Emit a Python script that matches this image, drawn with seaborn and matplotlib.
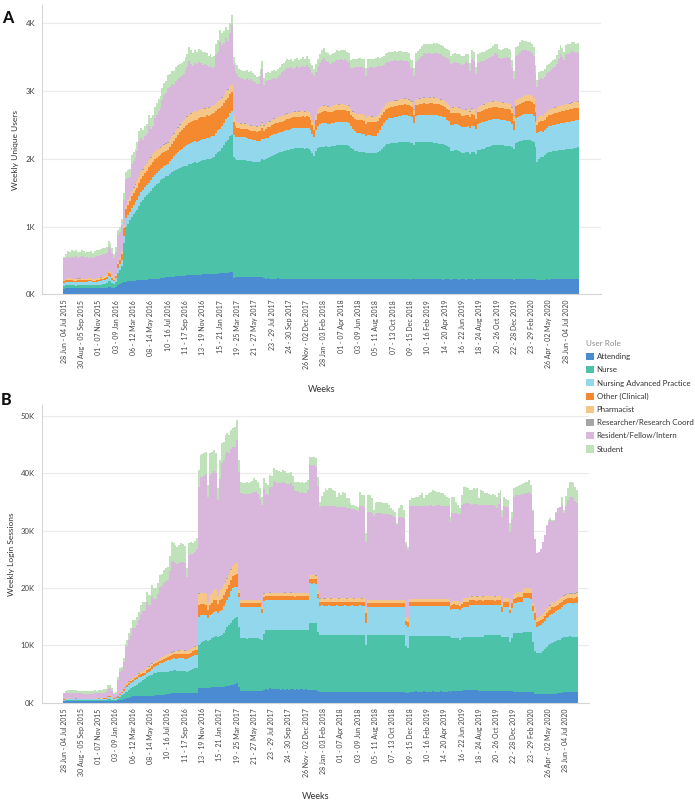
import numpy as np
import pandas as pd
import matplotlib
matplotlib.use('Agg')
import matplotlib.pyplot as plt
import seaborn as sns
from matplotlib.patches import Patch

N_WEEKS = 268
WEEK_IDX = np.arange(N_WEEKS)

ROLES = ['Attending', 'Nurse', 'Nursing Advanced Practice', 'Other (Clinical)', 'Pharmacist',
         'Researcher/Research Coord', 'Resident/Fellow/Intern', 'Student']
COLORS = ['#4a8bd1', '#4cc2a8', '#93d7ec', '#f5892f', '#f6c687', '#a6a6a6', '#d9b6db', '#bfe2bb']

WEEK_LABELS = ['28 Jun - 04 Jul 2015', '30 Aug - 05 Sep 2015', '01 - 07 Nov 2015', '03 - 09 Jan 2016',
               '06 - 12 Mar 2016', '08 - 14 May 2016', '10 - 16 Jul 2016', '11 - 17 Sep 2016',
               '13 - 19 Nov 2016', '15 - 21 Jan 2017', '19 - 25 Mar 2017', '21 - 27 May 2017',
               '23 - 29 Jul 2017', '24 - 30 Sep 2017', '26 Nov - 02 Dec 2017', '28 Jan - 03 Feb 2018',
               '01 - 07 Apr 2018', '03 - 09 Jun 2018', '05 - 11 Aug 2018', '07 - 13 Oct 2018',
               '09 - 15 Dec 2018', '10 - 16 Feb 2019', '14 - 20 Apr 2019', '16 - 22 Jun 2019',
               '18 - 24 Aug 2019', '20 - 26 Oct 2019', '22 - 28 Dec 2019', '23 - 29 Feb 2020',
               '26 Apr - 02 May 2020', '28 Jun - 04 Jul 2020']

# ---------------- panel A: weekly unique users ----------------
A_ATTENDING = [
    85, 88, 90, 92, 90, 88, 86, 90, 92, 90, 88, 90, 92, 94, 90, 88, 86, 90, 92, 90, 94, 96, 100, 108, 112, 100, 95, 105,
    130, 150, 170, 180, 185, 190, 190, 195, 200, 200, 205, 205, 210, 210, 215, 215, 220, 220, 225, 225,
    230, 230, 235, 240, 245, 250, 255, 255, 260, 260, 265, 265, 270, 270, 275, 275, 280, 280, 285, 285,
    285, 290, 290, 290, 295, 295, 295, 300, 300, 300, 300, 305, 305, 310, 310, 315, 315, 320, 325, 330, 240,
    262, 258, 255, 257, 254, 256, 253, 255, 252, 254,
    252, 250, 253, 251, 249, 236, 232, 235, 230, 233,
    232, 230, 234, 231, 229, 232, 230, 228, 231, 229,
    228, 230, 226, 229, 227, 230, 228, 226, 229, 227,
    226, 222, 228, 230, 229, 231, 228, 230, 229, 231,
    230, 232, 229, 231, 230, 228, 231, 229, 230, 228,
    226, 224, 227, 225, 222, 224, 226, 223, 221, 224,
    222, 224, 221, 223, 220, 222, 224, 221, 223, 222,
    221, 223, 220, 222, 221, 219, 222, 220, 221, 219,
    220, 218, 221, 219, 220, 222, 219, 221, 220, 222,
    220, 221, 219, 222, 220, 221, 219, 220, 218, 221,
    219, 220, 218, 221, 219, 220, 218, 221, 219, 220,
    218, 221, 219, 220, 218, 221, 219, 220, 222, 219,
    221, 220, 222, 219, 221, 220, 222, 219, 221, 220,
    219, 221, 220, 222, 220, 218, 224, 226, 225, 227,
    227, 225, 226, 224, 225, 222, 220, 215, 218, 216,
    218, 217, 219, 218, 220, 219, 221, 220, 222, 221,
    222, 220, 223, 221, 224, 222, 225, 223, 226]
A_NURSE = [
    40, 45, 48, 50, 45, 42, 40, 45, 48, 50, 46, 44, 45, 48, 50, 46, 44, 48, 50, 52, 55, 60, 65, 85, 80, 60, 50, 70,
    183, 210, 250, 575, 815, 850, 900, 945, 980, 1015, 1040, 1095, 1150, 1185, 1215, 1245, 1280, 1310, 1345, 1375,
    1400, 1420, 1445, 1460, 1475, 1490, 1495, 1525, 1540, 1560, 1575, 1585, 1600, 1610, 1615, 1625, 1620, 1640,
    1645, 1655, 1670, 1650, 1670, 1680, 1680, 1685, 1695, 1690, 1700, 1710, 1720, 1760, 1795, 1810, 1850, 1885,
    1935, 1960, 2005, 2020, 1790,
    1728, 1727, 1725, 1718, 1726, 1722, 1717, 1713, 1713, 1706,
    1706, 1705, 1707, 1719, 1741, 1749, 1768, 1775, 1800, 1807,
    1828, 1840, 1851, 1864, 1875, 1878, 1890, 1902, 1904, 1911,
    1922, 1925, 1928, 1929, 1933, 1925, 1922, 1934, 1921, 1893,
    1854, 1818, 1882, 1930, 1941, 1947, 1952, 1955, 1951, 1947,
    1955, 1958, 1966, 1969, 1968, 1977, 1972, 1971, 1968, 1967,
    1934, 1916, 1893, 1885, 1883, 1880, 1874, 1872, 1859, 1866,
    1863, 1858, 1859, 1862, 1880, 1898, 1926, 1959, 1977, 1993,
    2004, 2005, 2010, 2013, 2019, 2026, 2026, 2030, 2031, 2031,
    2028, 2022, 2014, 1981, 2025, 2028, 2033, 2033, 2035, 2030,
    2030, 2027, 2026, 2018, 2015, 2009, 2006, 2000, 1997, 1989,
    1971, 1950, 1892, 1894, 1906, 1910, 1902, 1879, 1866, 1870,
    1877, 1881, 1859, 1885, 1880, 1852, 1906, 1915, 1923, 1931,
    1939, 1950, 1958, 1971, 1977, 1983, 1983, 1984, 1979, 1978,
    1976, 1969, 1966, 1962, 1956, 1932, 2016, 2026, 2035, 2041,
    2048, 2052, 2052, 2052, 2045, 2028, 1960, 1745, 1782, 1814,
    1813, 1833, 1861, 1882, 1884, 1891, 1894, 1900, 1903, 1907,
    1908, 1915, 1917, 1921, 1921, 1928, 1930, 1937, 1944]
A_NAP = [
    45, 48, 50, 46, 44, 48, 50, 47, 45, 48, 50, 46, 44, 48, 50, 46, 45, 48, 50, 52, 55, 58, 60, 75, 70, 55, 45, 60,
    70, 80, 90, 110, 120, 125, 130, 135, 135, 140, 140, 145, 145, 145, 150, 150, 150, 150, 155, 160,
    160, 165, 165, 170, 170, 175, 180, 190, 200, 215, 230, 245, 260, 270, 280, 290, 300, 300, 300, 305,
    305, 305, 310, 310, 310, 310, 315, 315, 315, 320, 320, 320, 325, 325, 330, 330, 335, 340, 345, 350, 320,
    330, 335, 340, 340, 342, 338, 335, 330, 325, 320,
    315, 310, 305, 300, 305, 300, 300, 302, 300, 305,
    305, 300, 298, 300, 295, 300, 298, 300, 296, 300,
    300, 298, 295, 300, 298, 302, 300, 298, 300, 300,
    290, 280, 310, 330, 340, 344, 345, 342, 340, 340,
    342, 344, 345, 344, 346, 345, 344, 343, 342, 340,
    320, 300, 285, 275, 272, 270, 270, 268, 255, 262,
    260, 255, 250, 258, 275, 300, 330, 350, 360, 365,
    370, 372, 375, 378, 380, 385, 388, 390, 392, 390,
    388, 385, 380, 330, 385, 390, 392, 395, 398, 396,
    400, 405, 408, 410, 412, 415, 412, 410, 405, 400,
    390, 385, 390, 388, 385, 384, 383, 385, 380, 378,
    380, 378, 375, 382, 380, 370, 388, 390, 392, 393,
    393, 392, 390, 388, 385, 383, 380, 378, 375, 373,
    372, 370, 368, 365, 340, 275, 365, 370, 375, 380,
    385, 388, 390, 392, 390, 385, 360, 420, 400, 385,
    370, 372, 375, 380, 382, 385, 388, 390, 392, 395,
    398, 400, 402, 405, 405, 408, 410, 408, 405]
A_OTHER = [
    22, 25, 24, 26, 25, 23, 24, 26, 25, 24, 23, 25, 26, 24, 25, 23, 24, 26, 25, 27, 28, 30, 32, 45, 40, 30, 25, 35,
    60, 70, 90, 110, 140, 150, 160, 170, 175, 180, 190, 195, 200, 205, 210, 215, 225, 230, 235, 230,
    225, 220, 215, 210, 205, 200, 200, 210, 220, 230, 240, 250, 260, 270, 280, 290, 300, 310, 315, 320,
    320, 325, 325, 330, 330, 330, 335, 330, 330, 330, 330, 320, 310, 300, 290, 290, 290, 280, 280, 280, 190,
    170, 140, 130, 128, 125, 126, 130, 128, 126, 125,
    130, 135, 140, 145, 160, 130, 140, 150, 145, 148,
    150, 152, 150, 155, 150, 152, 155, 158, 150, 155,
    160, 162, 165, 160, 165, 168, 165, 170, 160, 150,
    130, 110, 150, 165, 170, 172, 175, 172, 170, 168,
    170, 172, 174, 175, 172, 175, 173, 172, 170, 168,
    170, 175, 185, 195, 198, 200, 205, 200, 185, 198,
    200, 205, 210, 195, 185, 175, 168, 165, 162, 160,
    160, 158, 160, 162, 158, 160, 162, 158, 160, 158,
    158, 155, 150, 120, 158, 160, 162, 165, 166, 165,
    165, 166, 168, 166, 165, 167, 165, 163, 160, 158,
    158, 160, 170, 172, 170, 168, 170, 172, 170, 168,
    170, 172, 165, 172, 170, 150, 172, 170, 172, 174,
    175, 176, 178, 176, 178, 180, 178, 176, 175, 174,
    175, 176, 174, 172, 160, 140, 175, 178, 180, 182,
    184, 185, 184, 183, 180, 175, 150, 120, 140, 150,
    155, 158, 160, 162, 165, 168, 170, 172, 174, 175,
    176, 175, 178, 180, 180, 182, 184, 182, 180]
A_PHARMACIST = [
    20, 22, 24, 22, 21, 23, 22, 24, 23, 22, 21, 23, 24, 22, 23, 21, 22, 24, 23, 25, 26, 27, 28, 32, 30, 26, 22, 28,
    30, 35, 40, 50, 60, 70, 75, 80, 85, 85, 90, 90, 95, 95, 100, 100, 105, 105, 110, 108,
    112, 110, 106, 110, 112, 108, 110, 112, 110, 108, 115, 113, 116, 120, 118, 122, 120, 118, 121, 120,
    119, 122, 120, 118, 121, 120, 118, 122, 120, 119, 121, 120, 118, 122, 120, 121, 119, 122, 120, 121, 90,
    80, 78, 76, 75, 74, 76, 75, 74, 75, 74,
    75, 74, 76, 75, 78, 74, 75, 76, 75, 76,
    78, 76, 78, 77, 76, 78, 77, 78, 76, 78,
    78, 80, 78, 79, 80, 78, 80, 79, 78, 76,
    74, 70, 78, 80, 82, 82, 83, 82, 81, 80,
    82, 83, 82, 84, 83, 84, 83, 82, 82, 81,
    80, 81, 82, 82, 81, 82, 82, 81, 78, 80,
    80, 81, 80, 81, 82, 82, 83, 82, 83, 82,
    82, 81, 82, 83, 82, 81, 82, 83, 82, 81,
    81, 80, 79, 75, 81, 82, 83, 84, 84, 83,
    84, 83, 84, 85, 84, 84, 83, 82, 82, 81,
    80, 81, 80, 81, 80, 81, 80, 79, 80, 79,
    80, 81, 78, 81, 80, 76, 81, 82, 82, 83,
    83, 84, 84, 83, 84, 85, 84, 83, 83, 82,
    82, 83, 82, 82, 80, 74, 82, 83, 84, 85,
    86, 85, 86, 85, 84, 83, 78, 72, 75, 76,
    77, 78, 79, 80, 80, 81, 82, 82, 83, 84,
    84, 83, 85, 85, 86, 86, 87, 86, 86]
A_RESEARCH = [
    1, 2, 2, 1, 2, 2, 1, 2, 2, 1, 2, 2, 1, 2, 2, 1, 2, 2, 1, 2, 2, 1, 2, 3, 3, 2, 2, 2,
    3, 3, 4, 3, 4, 4, 3, 4, 4, 3, 4, 5, 4, 4, 3, 4, 4, 5, 4, 4,
    4, 5, 4, 4, 5, 4, 4, 5, 5, 4, 4, 5, 4, 5, 5, 4, 5, 5, 4, 5,
    5, 4, 5, 5, 4, 5, 5, 4, 5, 4, 4, 5, 4, 4, 5, 4, 4, 5, 4, 4,
    4, 5, 4, 4, 4, 5, 4, 4, 5, 4, 4, 4, 5, 4, 4, 5, 4, 4, 4, 5,
    4, 4, 5, 4, 4, 4, 5, 4, 4, 5, 4, 4, 4, 5, 4, 4, 5, 4, 4, 4,
    5, 4, 4, 5, 4, 4, 4, 5, 4, 4, 5, 4, 4, 4, 5, 4, 4, 5, 4, 4,
    4, 5, 4, 4, 5, 4, 4, 4, 5, 4, 4, 5, 4, 4, 4, 5, 4, 4, 5, 4,
    4, 4, 5, 4, 4, 5, 4, 4, 4, 5, 4, 4, 5, 4, 4, 4, 5, 4, 4, 5,
    4, 4, 4, 5, 4, 4, 5, 4, 4, 4, 5, 4, 4, 5, 4, 4, 4, 5, 4, 4,
    5, 4, 4, 4, 5, 4, 4, 5, 4, 4, 4, 5, 4, 4, 5, 4, 4, 4, 5, 4,
    4, 5, 4, 4, 4, 5, 4, 4, 5, 4, 4, 4, 5, 4, 4, 5, 4, 4, 4, 5,
    4, 4, 5, 4, 4, 5, 4, 4, 4, 5, 4, 4, 5, 4, 4, 4, 5, 4, 4, 5]
A_STUDENT = [
    5, 70, 85, 80, 95, 90, 95, 85, 85, 90, 85, 80, 85, 80, 85, 80, 85, 90, 85, 90, 90, 95, 90, 95, 90, 80, 60, 70,
    80, 85, 90, 100, 110, 110, 120, 130, 130, 135, 140, 150, 150, 145, 150, 150, 160, 155, 160, 165,
    170, 170, 175, 180, 185, 185, 190, 190, 195, 195, 200, 200, 200, 200, 195, 195, 190, 200, 195, 190,
    190, 185, 185, 180, 180, 175, 170, 165, 160, 160, 160, 165, 170, 175, 170, 170, 165, 160, 150, 150, 120,
    130, 125, 120, 118, 120, 122, 118, 120, 118, 115,
    110, 105, 110, 115, 120, 105, 110, 110, 112, 115,
    115, 118, 120, 122, 120, 125, 122, 125, 122, 125,
    120, 125, 122, 120, 124, 126, 122, 125, 120, 115,
    118, 115, 120, 125, 130, 135, 138, 135, 132, 130,
    132, 135, 134, 136, 135, 138, 136, 135, 134, 132,
    125, 126, 128, 127, 128, 126, 128, 125, 115, 125,
    125, 126, 124, 128, 128, 126, 128, 130, 132, 134,
    135, 136, 134, 137, 135, 136, 135, 134, 133, 134,
    133, 128, 125, 115, 132, 135, 138, 140, 142, 140,
    140, 142, 140, 143, 142, 144, 140, 138, 136, 134,
    132, 130, 125, 128, 130, 129, 130, 128, 126, 127,
    128, 130, 120, 132, 130, 115, 130, 131, 132, 133,
    134, 135, 136, 138, 140, 142, 140, 136, 135, 136,
    137, 138, 136, 135, 125, 110, 135, 138, 140, 142,
    142, 140, 138, 136, 134, 130, 115, 105, 110, 112,
    112, 115, 118, 120, 122, 124, 126, 128, 130, 134,
    132, 128, 136, 138, 140, 142, 142, 140, 140]
# top of each weekly stack; residents fill the gap below the students
A_TOTAL = [
    545, 600, 640, 620, 650, 640, 655, 620, 630, 650, 635, 615, 630, 620, 640, 610, 640, 660, 650, 670,
    680, 690, 700, 790, 760, 690, 590, 700,
    950, 1000, 1110, 1490, 1810, 1830, 1850, 2050, 2100, 2140, 2250, 2410, 2460, 2420, 2480, 2520, 2640, 2600,
    2650, 2760, 2820, 2880, 2920, 3050, 3120, 3150, 3230, 3250, 3300, 3290, 3350, 3380, 3400, 3420, 3440, 3500,
    3540, 3650, 3600, 3560, 3600, 3580, 3620, 3600, 3570, 3580, 3560, 3520, 3540, 3500, 3520, 3700, 3750, 3900,
    3850, 3880, 3950, 3900, 4000, 4120, 3500,
    3420, 3380, 3330, 3310, 3300, 3290, 3310, 3280, 3290, 3260,
    3240, 3210, 3220, 3330, 3450, 3190, 3260, 3280, 3270, 3300,
    3310, 3300, 3330, 3360, 3400, 3420, 3440, 3470, 3460, 3480,
    3450, 3470, 3490, 3460, 3480, 3500, 3470, 3510, 3480, 3420,
    3380, 3330, 3400, 3480, 3540, 3600, 3630, 3580, 3560, 3530,
    3540, 3560, 3580, 3600, 3590, 3610, 3600, 3605, 3580, 3560,
    3460, 3470, 3480, 3475, 3490, 3485, 3480, 3470, 3340, 3470,
    3475, 3480, 3470, 3490, 3500, 3495, 3505, 3510, 3540, 3560,
    3570, 3580, 3575, 3590, 3580, 3585, 3590, 3580, 3570, 3575,
    3560, 3470, 3460, 3340, 3560, 3590, 3620, 3660, 3700, 3690,
    3695, 3700, 3690, 3705, 3700, 3702, 3690, 3680, 3660, 3640,
    3620, 3600, 3520, 3540, 3560, 3545, 3550, 3530, 3510, 3520,
    3550, 3540, 3410, 3600, 3580, 3360, 3540, 3560, 3570, 3580,
    3590, 3610, 3625, 3640, 3660, 3700, 3690, 3620, 3610, 3620,
    3630, 3635, 3620, 3600, 3460, 3290, 3650, 3670, 3720, 3750,
    3745, 3740, 3730, 3720, 3700, 3650, 3380, 3160, 3280, 3300,
    3290, 3320, 3380, 3400, 3430, 3460, 3480, 3530, 3600, 3680,
    3640, 3580, 3680, 3690, 3700, 3730, 3720, 3700, 3710]

# ---------------- panel B: weekly login sessions ----------------
B_ATTENDING = [
    230, 250, 260, 255, 250, 245, 255, 250, 245, 240, 245, 250, 255, 250, 245, 250, 255, 260, 255, 260,
    265, 270, 280, 320, 330, 290, 260, 270,
    400, 440, 465, 600, 700, 755, 900, 1050, 1160, 1150, 1160, 1170, 1160, 1150, 1160, 1160, 1170, 1200, 1230, 1250,
    1280, 1300, 1335, 1380, 1420, 1470, 1510, 1600, 1700, 1740, 1740, 1740, 1745, 1740, 1735, 1740, 1700, 1720,
    1700, 1680, 1650, 1626, 2500, 2500, 2550, 2600, 2620, 2600, 2640, 2650, 2670, 2680, 2670, 2700, 2750, 2800,
    2850, 2900, 2950, 3000, 3080, 3200, 3370,
    2800, 2090, 2100, 2080, 2090, 2070, 2100, 2090, 2080, 2090,
    2080, 2100, 2050, 2200, 2300, 2290, 2500, 2350, 2320, 2300,
    2300, 2310, 2290, 2300, 2280, 2300, 2290, 2310, 2300, 2280,
    2300, 2290, 2310, 2300, 2280, 2300, 2290, 2210, 2210, 2230,
    2220, 2000, 1916, 1920, 1910, 1916, 1920, 1916, 1910, 1916,
    1920, 1916, 1910, 1916, 1920, 1916, 1910, 1916, 1920, 1916,
    1910, 1916, 1920, 1916, 1910, 1916, 1800, 1800, 1810, 1800,
    1800, 1810, 1800, 1790, 1800, 1810, 1800, 1790, 1800, 1810,
    1800, 1790, 1800, 1810, 1800, 1790, 1800, 1650, 1626, 1950,
    1950, 1940, 1960, 1950, 1940, 1950, 1960, 1950, 1940, 1950,
    1940, 1960, 1950, 1940, 1950, 1960, 1950, 1940, 1950, 1960,
    1950, 2000, 2010, 2000, 1990, 2000, 2010, 2210, 2210, 2200,
    2210, 2200, 2210, 2200, 2210, 2000, 1990, 2000, 2010, 2000,
    2000, 2010, 2000, 1990, 2000, 2010, 2000, 1990, 2000, 2010,
    2000, 1990, 2000, 1916, 1920, 1916, 1910, 1916, 1920, 1916,
    1920, 1916, 1900, 1800, 1600, 1510, 1510, 1520, 1520, 1530,
    1540, 1550, 1560, 1560, 1570, 1600, 1650, 1700, 1750, 1800,
    1850, 1916, 1916, 1920, 1916, 1920, 1916]
B_NURSE = [
    120, 150, 160, 150, 155, 150, 160, 150, 145, 150, 150, 145, 150, 155, 150, 150, 155, 160, 165, 170,
    180, 190, 200, 300, 320, 230, 200, 220,
    300, 605, 835, 1000, 1100, 1161, 1300, 1450, 1630, 1800, 1990, 2180, 2500, 2750, 2940, 3370, 3430, 3550, 3670, 3860,
    3920, 4000, 4065, 4020, 3980, 3930, 3890, 3900, 3900, 3950, 3910, 3860, 3835, 3810, 3765, 3710, 3700, 3780,
    4000, 4170, 4330, 4374, 7550, 7800, 7950, 8100, 8300, 8200, 8360, 8550, 8830, 8920, 8830, 9000, 9040, 9400,
    9850, 10340, 10550, 10800, 11320, 11500, 11610,
    10440, 9120, 9150, 9120, 9090, 9140, 9150, 9130, 9120, 9120,
    9120, 9080, 8850, 9800, 10360, 10310, 10200, 10300, 10340, 10380,
    10360, 10340, 10410, 10360, 10360, 10360, 10390, 10340, 10360, 10320,
    10360, 10390, 10340, 10360, 10360, 10360, 10390, 11610, 11590, 11590,
    11580, 10400, 9874, 9880, 9870, 9874, 9880, 9874, 9870, 9874,
    9880, 9874, 9870, 9874, 9880, 9874, 9870, 9874, 9880, 9874,
    9870, 9874, 9880, 9874, 9870, 9874, 8250, 9990, 9990, 9990,
    9990, 9960, 10010, 9980, 9950, 10000, 9970, 9990, 9960, 10010,
    9970, 9990, 9960, 10000, 9980, 9990, 9970, 8150, 7844, 9700,
    9700, 9720, 9690, 9700, 9710, 9700, 9690, 9720, 9700, 9710,
    9720, 9690, 9700, 9710, 9700, 9690, 9720, 9700, 9710, 9700,
    9550, 9200, 9190, 9200, 9210, 8920, 9190, 9290, 9290, 9300,
    9290, 9300, 9290, 9300, 9290, 9500, 9510, 9500, 9780, 9790,
    9790, 9780, 9790, 9800, 9790, 9780, 9790, 9510, 9500, 9490,
    9500, 8640, 9200, 10164, 10160, 10164, 10190, 10164, 10450, 10454,
    10450, 10454, 10400, 8700, 7400, 7080, 7080, 7180, 7480, 7870,
    8220, 8450, 8640, 8780, 8930, 9100, 9270, 9220, 9450, 9700,
    9650, 9584, 9634, 9580, 9584, 9530, 9584]
B_NAP = [
    180, 210, 220, 215, 210, 205, 220, 210, 200, 205, 200, 195, 205, 210, 200, 205, 210, 220, 215, 225,
    230, 240, 250, 380, 400, 300, 240, 250,
    200, 305, 400, 500, 700, 874, 900, 900, 870, 950, 1000, 1050, 900, 800, 700, 650, 700, 850, 1000, 1100,
    1200, 1300, 1450, 1600, 1750, 1900, 2000, 2000, 2000, 2030, 2050, 2100, 2140, 2170, 2220, 2250, 2250, 2220,
    2200, 2250, 2320, 2350, 4950, 4900, 4800, 4600, 4280, 4000, 4300, 4300, 4350, 4350, 4200, 4300, 4350, 4600,
    4600, 4650, 5000, 5600, 5500, 5500, 5230,
    5230, 5510, 5450, 5450, 5540, 5540, 5450, 5500, 5450, 5490,
    5500, 5470, 4660, 5800, 5230, 5300, 5250, 5250, 5230, 5270,
    5240, 5300, 5200, 5230, 5310, 5240, 5210, 5300, 5240, 5250,
    5230, 5270, 5250, 5240, 5250, 5290, 5220, 6970, 6950, 6970,
    6900, 5800, 5110, 5150, 5120, 5130, 5100, 5160, 5120, 5130,
    5100, 5160, 5120, 5130, 5100, 5160, 5120, 5130, 5100, 5160,
    5120, 5130, 5100, 5160, 5120, 5130, 3770, 4930, 4950, 4930,
    4930, 4950, 4920, 4960, 4940, 4930, 4950, 4920, 4960, 4940,
    4950, 4930, 4960, 4940, 4930, 4950, 4920, 3700, 3770, 5250,
    5250, 5230, 5260, 5240, 5250, 5230, 5260, 5240, 5250, 5230,
    5260, 5240, 5250, 5230, 5260, 5240, 5250, 5230, 5260, 5240,
    4640, 5200, 5200, 5200, 5200, 5220, 5300, 5220, 5220, 5220,
    5510, 5500, 5520, 5510, 5500, 5510, 5520, 5500, 5220, 5230,
    5220, 5230, 5220, 5210, 5220, 5230, 5220, 4350, 5200, 5210,
    5200, 4930, 5300, 5220, 5370, 5520, 5500, 5520, 5810, 5810,
    5810, 5810, 5800, 5500, 5400, 4650, 4810, 4900, 4820, 4800,
    5040, 5000, 5070, 5160, 5200, 5300, 5220, 5380, 5500, 5510,
    5700, 5800, 5750, 5800, 5750, 5850, 5800]
B_OTHER = [
    40, 45, 50, 48, 45, 44, 48, 45, 44, 45, 44, 43, 45, 46, 44, 45, 46, 48, 47, 50, 52, 55, 60, 120, 130, 80, 60, 90,
    100, 130, 160, 200, 230, 300, 300, 300, 300, 320, 340, 360, 380, 420, 460, 500, 560, 520, 500, 480,
    470, 460, 480, 500, 520, 540, 560, 600, 640, 680, 700, 760, 780, 800, 800, 790, 780, 800,
    820, 830, 820, 800, 2000, 2000, 1950, 1900, 1900, 1300, 1800, 1900, 2000, 2000, 1500, 1900, 2000, 2000,
    2000, 2000, 2000, 2000, 2100, 2100, 2200,
    600, 650, 640, 660, 650, 640, 660, 650, 640, 650,
    650, 660, 700, 650, 650, 640, 660, 650, 640, 650,
    650, 640, 660, 650, 650, 640, 660, 650, 640, 650,
    650, 640, 660, 650, 650, 640, 660, 800, 810, 800,
    800, 700, 650, 660, 650, 640, 660, 650, 640, 650,
    660, 650, 640, 650, 660, 650, 640, 650, 660, 650,
    640, 650, 660, 650, 640, 650, 1800, 620, 630, 620,
    620, 630, 610, 620, 630, 620, 610, 630, 620, 610,
    620, 630, 610, 620, 630, 620, 610, 800, 800, 620,
    620, 630, 610, 620, 630, 620, 610, 630, 620, 610,
    620, 630, 610, 620, 630, 620, 610, 630, 620, 610,
    700, 700, 710, 690, 700, 710, 700, 800, 810, 800,
    800, 810, 800, 790, 800, 810, 800, 790, 800, 810,
    800, 810, 800, 790, 800, 810, 800, 800, 800, 810,
    800, 650, 800, 850, 850, 860, 850, 860, 950, 950,
    950, 960, 950, 800, 1200, 800, 800, 820, 850, 880,
    900, 900, 900, 1200, 900, 900, 900, 1100, 850, 850,
    850, 870, 880, 880, 870, 880, 1100]
B_PHARMACIST = [
    40, 45, 48, 46, 45, 44, 46, 45, 44, 45, 43, 42, 44, 45, 43, 44, 45, 47, 46, 48, 50, 52, 55, 90, 95, 70, 55, 75,
    80, 100, 120, 140, 170, 280, 290, 290, 280, 300, 310, 320, 330, 350, 370, 400, 420, 400, 400, 380,
    380, 380, 390, 400, 420, 430, 450, 480, 500, 520, 540, 560, 580, 600, 600, 600, 590, 620,
    640, 650, 640, 650, 2000, 1900, 1900, 1850, 1800, 1300, 1700, 1750, 1800, 1800, 1400, 1750, 1800, 1800,
    1800, 1750, 1750, 1800, 1800, 1850, 1900,
    560, 520, 530, 520, 510, 530, 520, 520, 530, 520,
    520, 530, 460, 560, 560, 570, 560, 560, 570, 560,
    560, 570, 560, 560, 570, 560, 560, 570, 560, 560,
    560, 570, 560, 560, 570, 560, 560, 650, 660, 650,
    650, 500, 600, 610, 600, 590, 600, 610, 600, 590,
    600, 610, 600, 590, 600, 610, 600, 590, 600, 610,
    600, 590, 600, 610, 600, 590, 900, 550, 560, 550,
    550, 560, 540, 550, 560, 550, 540, 560, 550, 540,
    550, 560, 540, 550, 560, 550, 540, 650, 650, 560,
    560, 550, 570, 560, 550, 560, 570, 550, 560, 570,
    550, 560, 570, 550, 560, 570, 550, 560, 570, 550,
    560, 560, 550, 570, 560, 550, 570, 700, 690, 700,
    700, 690, 700, 710, 700, 690, 700, 710, 700, 690,
    700, 690, 700, 710, 700, 690, 700, 650, 700, 690,
    700, 510, 700, 750, 760, 750, 760, 750, 790, 790,
    790, 790, 780, 600, 1100, 650, 650, 680, 700, 720,
    740, 750, 760, 760, 760, 780, 780, 780, 780, 800,
    800, 800, 820, 820, 810, 820, 800]
B_RESEARCH = [
    10, 12, 12, 11, 12, 11, 12, 11, 10, 11, 10, 10, 11, 12, 10, 11, 12, 12, 11, 12, 12, 13, 13, 18, 18, 14, 10, 12,
    14, 16, 18, 20, 22, 24, 25, 26, 27, 28, 28, 29, 30, 30, 31, 32, 31, 30, 32, 31,
    30, 31, 32, 33, 32, 31, 33, 34, 35, 34, 33, 34, 33, 32, 30, 32, 33, 32, 33, 34,
    35, 34, 35, 36, 35, 36, 37, 36, 35, 36, 37, 36, 35, 36, 35, 34, 35, 36, 35, 34,
    33, 34, 35, 34, 33, 34, 35, 34, 33, 34, 35, 34, 35, 36, 35, 34, 33, 34, 35, 34,
    33, 34, 33, 32, 33, 34, 33, 32, 33, 34, 33, 32, 31, 32, 33, 32, 31, 32, 33, 32,
    31, 32, 31, 30, 31, 32, 31, 30, 31, 32, 31, 30, 31, 32, 31, 30, 28, 30, 31, 30,
    30, 31, 30, 29, 30, 31, 30, 29, 30, 31, 30, 29, 30, 31, 30, 29, 30, 31, 30, 29,
    28, 29, 30, 29, 28, 29, 30, 29, 28, 29, 30, 29, 28, 29, 30, 29, 28, 29, 30, 29,
    27, 28, 29, 28, 27, 28, 29, 28, 27, 28, 29, 28, 27, 28, 29, 28, 27, 28, 29, 28,
    28, 29, 28, 27, 28, 29, 28, 27, 28, 29, 28, 27, 28, 29, 28, 27, 26, 27, 28, 27,
    27, 28, 27, 26, 27, 28, 27, 26, 27, 28, 27, 26, 22, 20, 20, 21, 22, 22, 23, 23,
    24, 24, 25, 25, 25, 26, 26, 27, 28, 28, 28, 29, 29, 29, 30, 30, 30, 30, 31, 31]
B_STUDENT = [
    60, 480, 520, 500, 510, 490, 520, 480, 490, 470, 460, 450, 455, 470, 450, 480, 500, 480, 510, 520,
    500, 530, 540, 600, 620, 520, 300, 300,
    500, 600, 650, 700, 900, 1000, 1100, 1200, 1300, 1350, 1400, 1500, 1600, 1650, 1700, 1800, 1800, 1750, 1900, 1850,
    1800, 1900, 2000, 2100, 2200, 2200, 2300, 2600, 3300, 3200, 3100, 3000, 3100, 3200, 3100, 3000, 1500, 2000,
    2100, 2000, 1900, 1800, 3000, 3800, 3900, 4000, 3900, 2000, 3800, 3700, 3600, 3500, 2000, 3300, 3400, 3300,
    3300, 3200, 3200, 3300, 3300, 3400, 3500,
    2000, 2000, 1900, 2000, 2100, 2000, 2100, 2200, 2300, 2100,
    2100, 1800, 1500, 1900, 1800, 1700, 2000, 2000, 2200, 2100,
    2200, 2100, 2000, 2100, 2000, 1900, 2000, 2000, 1800, 1700,
    1700, 1700, 1800, 1800, 1700, 1800, 1800, 1450, 1450, 1450,
    1450, 1700, 900, 1800, 2500, 3000, 2800, 3000, 3000, 2800,
    2600, 1800, 2300, 2100, 2600, 2400, 1600, 1600, 900, 800,
    700, 700, 700, 2500, 2000, 2000, 1450, 3000, 3000, 2500,
    1000, 1800, 2000, 2000, 2000, 1800, 1800, 1800, 1600, 1200,
    1000, 900, 300, 1500, 2000, 2000, 1300, 600, 600, 1100,
    1300, 1300, 1600, 1600, 1900, 2200, 1300, 1900, 1900, 2200,
    2400, 2700, 2500, 2400, 2400, 2200, 2200, 1900, 1600, 1300,
    1000, 2900, 2800, 2000, 1500, 1000, 1800, 2900, 2900, 2600,
    2400, 2600, 2800, 2700, 2800, 1200, 2500, 2400, 2200, 2100,
    2000, 1800, 1900, 1900, 1900, 1800, 1450, 1160, 1700, 1400,
    1200, 1450, 1300, 1450, 1500, 1600, 1700, 1800, 1900, 1900,
    2000, 2000, 1600, 100, 0, 0, 0, 0, 0, 0,
    200, 300, 300, 300, 200, 100, 0, 100, 1500, 500,
    1740, 2000, 2600, 2600, 2600, 2400, 2300]
B_TOTAL = [
    1740, 2100, 2250, 2180, 2200, 2150, 2230, 2100, 2120, 2080, 2050, 2000, 2020, 2050, 2000, 2080, 2150, 2100,
    2180, 2250, 2200, 2300, 2350, 3050, 3100, 2500, 1750, 1900,
    4530, 5980, 6270, 7720, 10300, 10900, 12080, 12950, 14400, 14400, 14980, 15850, 17010, 17600, 17600, 19340,
    18760, 18800, 20500, 20000, 19920, 20790, 22240, 22500, 23110, 23400, 23690, 25500, 28050, 27800, 27500,
    27180, 27500, 27760, 27600, 27300, 23400, 27760, 28000, 27900, 28200, 28630, 40500, 43150, 43300, 43440,
    43730, 37920, 43440, 43700, 44020, 43500, 37340, 42280, 45180, 45500, 46630, 46920, 46700, 47500, 47790,
    48000, 49240,
    42270, 38500, 38210, 38300, 38400, 38300, 38500, 38700, 39080, 38800,
    38500, 37340, 35890, 39080, 38200, 37900, 39660, 39500, 40820, 40600,
    40530, 40300, 40240, 40530, 40300, 39950, 40100, 40240, 39500, 38500,
    38500, 38400, 38210, 38500, 38300, 38400, 38790, 42860, 42860, 42860,
    42560, 39370, 35020, 36000, 36760, 37340, 37050, 37340, 37340, 37050,
    36800, 35890, 36470, 36200, 36760, 36470, 35600, 35600, 34730, 34500,
    34440, 34300, 34150, 36760, 36200, 36180, 29500, 36180, 36180, 35600,
    33560, 34730, 35020, 35020, 35020, 34730, 34730, 34730, 34500, 33850,
    33560, 33270, 31240, 33850, 34440, 34440, 33560, 28050, 27180, 35310,
    35600, 35600, 35890, 35890, 36200, 36470, 35600, 36180, 36180, 36470,
    36760, 37050, 36800, 36760, 36760, 36470, 36470, 36180, 35890, 35600,
    32400, 35890, 35800, 35020, 34440, 33900, 36200, 37500, 37630, 37340,
    37050, 37100, 37340, 37300, 37340, 35600, 37000, 36800, 36600, 36500,
    36400, 36180, 36300, 36180, 35890, 36500, 37050, 33560, 35890, 35500,
    35310, 31240, 33270, 37340, 37630, 37800, 37920, 38100, 38210, 38400,
    38500, 38790, 38000, 33500, 28500, 26020, 26300, 26800, 28000, 29200,
    31000, 31800, 32110, 31900, 31820, 33200, 33850, 34150, 35890, 33560,
    36000, 37340, 38500, 38400, 38210, 37600, 37050]


def check_lengths(**series):
    for name, vals in series.items():
        if len(vals) != N_WEEKS:
            raise ValueError(f'{name} has {len(vals)} values, expected {N_WEEKS}')


def build_bands(att, nur, nap, oth, pha, rsc, stu, total):
    below = np.array(att) + np.array(nur) + np.array(nap) + np.array(oth) + np.array(pha) + np.array(rsc)
    resident = np.array(total) - below - np.array(stu)
    bands = [att, nur, nap, oth, pha, rsc, resident, stu]
    frames = [pd.DataFrame({'week': WEEK_IDX, 'role': role, 'value': np.asarray(v, dtype=float)})
              for role, v in zip(ROLES, bands)]
    return pd.concat(frames, ignore_index=True)


def draw_panel(ax, df, xlim, ylim, yticks, yticklabels, ylabel, ylabel_x, xlabel_y):
    # seaborn puts the first hue level on top of the stack, so feed the roles top-down
    sns.histplot(data=df, x='week', weights='value', hue='role', hue_order=ROLES[::-1],
                 multiple='stack', discrete=True, shrink=1.0, palette=dict(zip(ROLES, COLORS)),
                 alpha=1, linewidth=0, legend=False, ax=ax)
    ax.set_xlim(*xlim)
    ax.set_ylim(*ylim)
    ax.set_yticks(yticks)
    ax.set_yticklabels(yticklabels)
    ax.set_xticks(WEEK_IDX[::9][:len(WEEK_LABELS)])
    ax.set_xticklabels(WEEK_LABELS, rotation=90)
    ax.grid(axis='y', color='#ebebeb', linewidth=0.8)
    ax.grid(axis='x', visible=False)
    ax.set_axisbelow(True)
    for side in ['top', 'right']:
        ax.spines[side].set_visible(False)
    for side in ['left', 'bottom']:
        ax.spines[side].set_color('#d6d6d6')
        ax.spines[side].set_linewidth(0.8)
    ax.tick_params(axis='x', length=0, pad=4, labelsize=5.0, labelcolor='#444444')
    ax.tick_params(axis='y', length=0, pad=5, labelsize=5.6, labelcolor='#444444')
    ax.set_ylabel(ylabel, fontsize=6.0, color='#333333')
    ax.set_xlabel('Weeks', fontsize=6.6, color='#333333')
    ax.yaxis.set_label_coords(ylabel_x, 0.5)
    ax.xaxis.set_label_coords(0.5, xlabel_y)


check_lengths(A_ATTENDING=A_ATTENDING, A_NURSE=A_NURSE, A_NAP=A_NAP, A_OTHER=A_OTHER,
              A_PHARMACIST=A_PHARMACIST, A_RESEARCH=A_RESEARCH, A_STUDENT=A_STUDENT, A_TOTAL=A_TOTAL,
              B_ATTENDING=B_ATTENDING, B_NURSE=B_NURSE, B_NAP=B_NAP, B_OTHER=B_OTHER,
              B_PHARMACIST=B_PHARMACIST, B_RESEARCH=B_RESEARCH, B_STUDENT=B_STUDENT, B_TOTAL=B_TOTAL)

sns.set_theme(style='white')
plt.rcParams['font.family'] = ['Lato', 'DejaVu Sans']

df_a = build_bands(A_ATTENDING, A_NURSE, A_NAP, A_OTHER, A_PHARMACIST, A_RESEARCH, A_STUDENT, A_TOTAL)
df_b = build_bands(B_ATTENDING, B_NURSE, B_NAP, B_OTHER, B_PHARMACIST, B_RESEARCH, B_STUDENT, B_TOTAL)

W, H = 695, 800
fig = plt.figure(figsize=(W / 100, H / 100), dpi=100)
ax_a = fig.add_axes([42 / W, 1 - 294.3 / H, 558.7 / W, 289.3 / H])
ax_b = fig.add_axes([41.7 / W, 1 - 702.7 / H, 547.6 / W, 297.7 / H])

draw_panel(ax_a, df_a, (-11.6, 278.9), (0, 4270), [0, 1000, 2000, 3000, 4000],
           ['0K', '1K', '2K', '3K', '4K'], 'Weekly Unique Users', -0.041, -0.313)
draw_panel(ax_b, df_b, (-11.6, 273.2), (0, 51870), [0, 10000, 20000, 30000, 40000, 50000],
           ['0K', '10K', '20K', '30K', '40K', '50K'], 'Weekly Login Sessions', -0.048, -0.30)

fig.text(2 / W, 1 - 23 / H, 'A', fontsize=11.5, fontweight='black', color='#111111', va='baseline')
fig.text(1 / W, 1 - 405 / H, 'B', fontsize=11.5, fontweight='black', color='#111111', va='baseline')

handles = [Patch(facecolor=c, edgecolor='none') for c in COLORS]
leg = fig.legend(handles, ROLES, loc='upper left', bbox_to_anchor=(586 / W, 1 - 340 / H),
                 frameon=False, title='User Role', fontsize=5.7, title_fontsize=5.9, alignment='left',
                 handlelength=1.0, handleheight=1.0, handletextpad=0.35, labelspacing=0.75,
                 borderpad=0, borderaxespad=0)
leg.get_title().set_color('#8c8c8c')
for t in leg.get_texts():
    t.set_color('#333333')

fig.savefig('out.png', dpi=100)
